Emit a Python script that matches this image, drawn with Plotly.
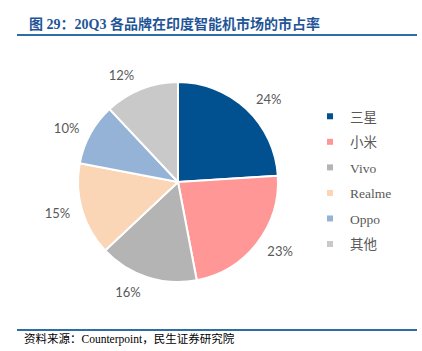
import plotly.graph_objects as go

brands = ["三星", "小米", "Vivo", "Realme", "Oppo", "其他"]
shares = [24, 23, 16, 15, 10, 12]
colors = ["#01508F", "#FF9797", "#B4B4B4", "#FAD5B6", "#95B3D7", "#C9C9C9"]

title_text = "图 29：20Q3 各品牌在印度智能机市场的市占率"
source_text = "资料来源：Counterpoint，民生证券研究院"

W, H = 422, 351
cx, cy, r = 178, 182, 100
lr = 108  # radius used for label placement

fig = go.Figure()
# visible pie
fig.add_trace(go.Pie(
    labels=brands, values=shares, sort=False, direction="clockwise", rotation=0,
    marker=dict(colors=colors, line=dict(color="white", width=2)),
    textinfo="none", showlegend=False, hoverinfo="skip",
    domain=dict(x=[(cx - r) / W, (cx + r) / W], y=[1 - (cy + r) / H, 1 - (cy - r) / H]),
))
# transparent, slightly larger pie carrying the outside labels
fig.add_trace(go.Pie(
    labels=brands, values=shares, sort=False, direction="clockwise", rotation=0,
    marker=dict(colors=["rgba(0,0,0,0)"] * len(brands), line=dict(width=0)),
    texttemplate="%{value}%", textposition="outside",
    textfont=dict(family="Lato, Liberation Sans, sans-serif", size=13, color="#595959"),
    showlegend=False, hoverinfo="skip",
    domain=dict(x=[(cx - lr) / W, (cx + lr) / W], y=[1 - (cy + lr) / H, 1 - (cy - lr) / H]),
))

for b, c in zip(brands, colors):
    fig.add_trace(go.Scatter(
        x=[None], y=[None], mode="markers", name=b, legendgroup=b,
        marker=dict(symbol="square", size=6, color=c),
    ))

fig.update_layout(
    width=W, height=H, margin=dict(l=0, r=0, t=0, b=0),
    paper_bgcolor="white", plot_bgcolor="white",
    xaxis=dict(visible=False), yaxis=dict(visible=False),
    legend=dict(
        x=310 / W, y=1 - 101 / H, xanchor="left", yanchor="top",
        font=dict(family="Liberation Serif, Noto Sans CJK SC, serif", size=13.5, color="#595959"),
        tracegroupgap=5, itemwidth=30, bgcolor="rgba(0,0,0,0)",
    ),
    shapes=[
        dict(type="line", xref="paper", yref="paper", x0=17 / W, x1=417 / W,
             y0=1 - 35 / H, y1=1 - 35 / H, line=dict(color="#2E6DA4", width=2)),
        dict(type="line", xref="paper", yref="paper", x0=17 / W, x1=417 / W,
             y0=1 - 330 / H, y1=1 - 330 / H, line=dict(color="#2E6DA4", width=2)),
    ],
    annotations=[
        dict(text="<b>" + title_text + "</b>", xref="paper", yref="paper",
             x=27 / W, y=1 - 24 / H, xanchor="left", yanchor="middle", showarrow=False,
             font=dict(family="Liberation Serif, Noto Sans CJK SC, serif", size=14, color="#1F5597")),
        dict(text=source_text, xref="paper", yref="paper",
             x=22 / W, y=1 - 339 / H, xanchor="left", yanchor="middle", showarrow=False,
             font=dict(family="Liberation Serif, Noto Sans CJK SC, serif", size=11.5, color="#000000")),
    ],
)

fig.write_html("out.html")
